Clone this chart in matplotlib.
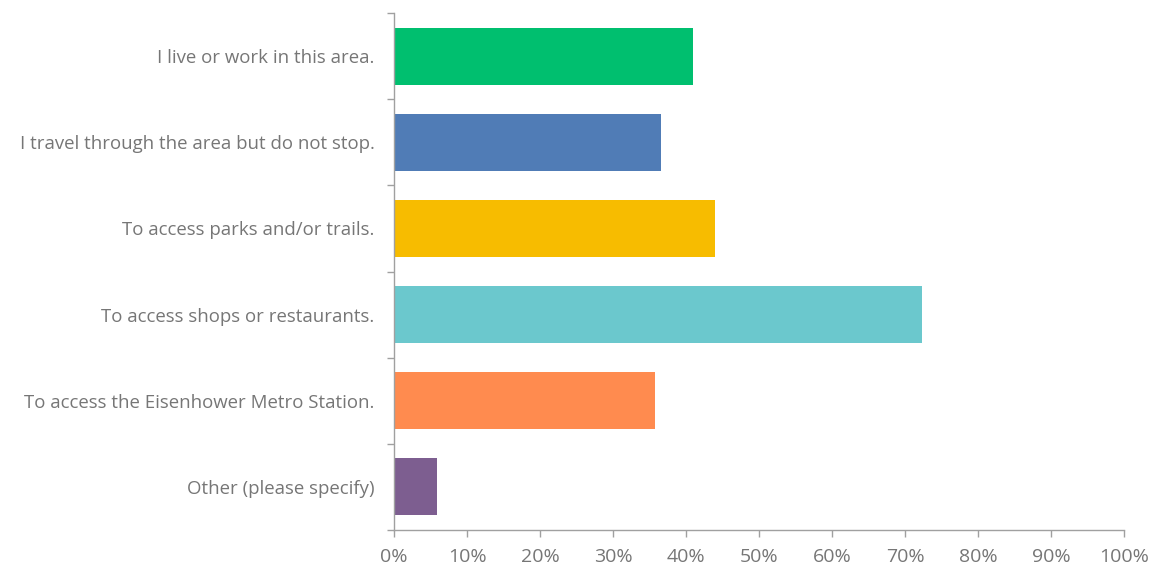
import matplotlib
matplotlib.use("Agg")
import matplotlib.pyplot as plt
from matplotlib.ticker import FixedLocator, NullFormatter

categories = [
    "I live or work in this area.",
    "I travel through the area but do not stop.",
    "To access parks and/or trails.",
    "To access shops or restaurants.",
    "To access the Eisenhower Metro Station.",
    "Other (please specify)",
]
values = [41.0, 36.6, 44.0, 72.3, 35.8, 5.9]
colors = ["#00bf6f", "#507cb6", "#f7bc00", "#6bc8cd", "#ff8b4f", "#7d5e90"]
xtick_values = list(range(0, 101, 10))
xtick_labels = [f"{v}%" for v in xtick_values]

plt.rcParams["font.family"] = ["Open Sans", "DejaVu Sans"]
text_color = "#767676"
axis_color = "#a0a0a0"

fig = plt.figure(figsize=(11.5, 5.67), dpi=100)
ax = fig.add_axes([394 / 1150, 1 - 530 / 567, (1124 - 394) / 1150, (530 - 13) / 567])

n = len(categories)
ypos = list(range(n))
ax.barh(ypos, values, height=0.66, color=colors, zorder=2)
ax.set_ylim(n - 0.5, -0.5)
ax.set_xlim(0, 100)

ax.set_yticks(ypos)
ax.set_yticklabels(categories, fontsize=13.4, color=text_color)
ax.tick_params(axis="y", which="major", length=0, pad=14)
ax.yaxis.set_minor_locator(FixedLocator([i - 0.5 for i in range(n + 1)]))
ax.yaxis.set_minor_formatter(NullFormatter())
ax.tick_params(axis="y", which="minor", length=5, color=axis_color, width=1)

ax.set_xticks(xtick_values)
ax.set_xticklabels(xtick_labels, fontsize=14, color=text_color)
ax.tick_params(axis="x", length=5, color=axis_color, width=1, pad=8)

for side in ("top", "right"):
    ax.spines[side].set_visible(False)
for side in ("left", "bottom"):
    ax.spines[side].set_color(axis_color)
    ax.spines[side].set_linewidth(1)

fig.savefig("out.png", dpi=100)
